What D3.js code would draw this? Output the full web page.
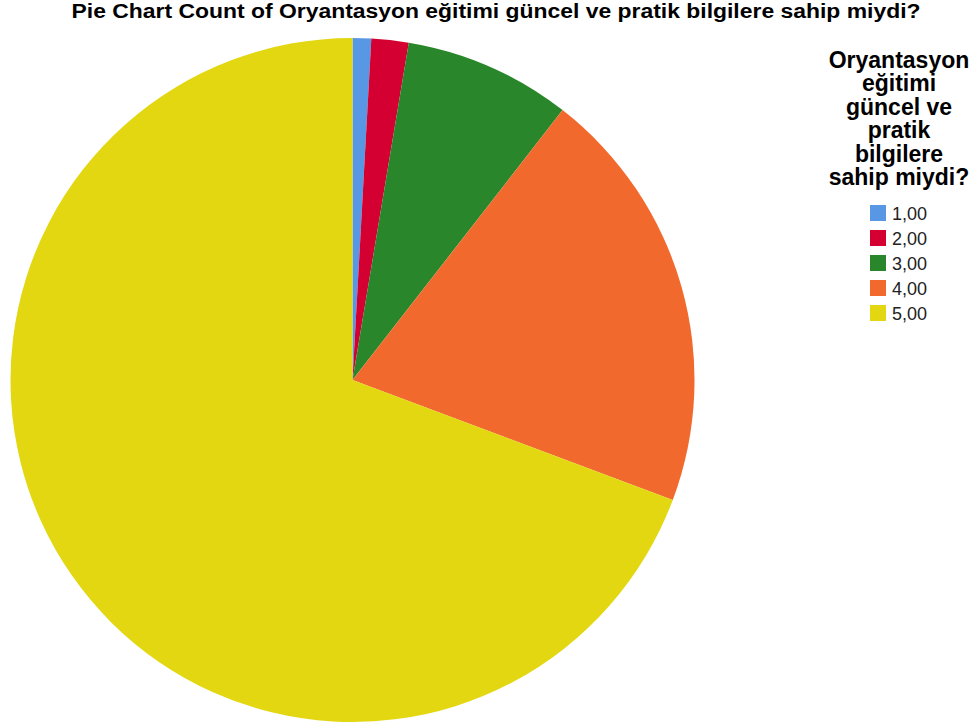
<!DOCTYPE html>
<html>
<head>
<meta charset="utf-8">
<script src="https://cdn.jsdelivr.net/npm/d3@7"></script>
<style>
  html, body { margin: 0; padding: 0; background: #fff; }
  svg { display: block; font-family: "Liberation Sans", Arial, sans-serif; }
</style>
</head>
<body>
<svg id="chart" width="976" height="726"></svg>
<script>
// values
const categories = ['1,00', '2,00', '3,00', '4,00', '5,00'];
const counts = [1, 2, 9, 23, 79];
const colors = ['#5897e4', '#d50032', '#2a862a', '#f2692d', '#e2d711'];
const titleText = 'Pie Chart Count of Oryantasyon eğitimi güncel ve pratik bilgilere sahip miydi?';
const legendTitle = ['Oryantasyon', 'eğitimi', 'güncel ve', 'pratik', 'bilgilere', 'sahip miydi?'];

const width = 976, height = 726;
const cx = 352.5, cy = 380, radius = 342;

const svg = d3.select('#chart');

const data = categories.map((c, i) => ({ cat: c, value: counts[i] }));
const color = d3.scaleOrdinal().domain(categories).range(colors);

const pie = d3.pie().value(d => d.value).sort(null);
const arc = d3.arc().innerRadius(0).outerRadius(radius);

const pieG = svg.append('g').attr('transform', `translate(${cx},${cy})`);
pieG.selectAll('path')
  .data(pie(data))
  .join('path')
  .attr('d', arc)
  .attr('fill', d => color(d.data.cat));

// title
svg.append('text')
  .attr('x', 496).attr('y', 18)
  .attr('text-anchor', 'middle')
  .attr('font-size', 19.5).attr('font-weight', 'bold')
  .attr('textLength', 849).attr('lengthAdjust', 'spacingAndGlyphs')
  .text(titleText);

// legend
const legend = svg.append('g');
legend.selectAll('text.lt')
  .data(legendTitle)
  .join('text')
  .attr('class', 'lt')
  .attr('x', 899)
  .attr('y', (d, i) => 68 + i * 23.4)
  .attr('text-anchor', 'middle')
  .attr('font-size', 23).attr('font-weight', 'bold')
  .text(d => d);

const rowY = d3.scalePoint().domain(categories).range([213, 313]);
const rows = legend.selectAll('g.row')
  .data(categories)
  .join('g')
  .attr('class', 'row')
  .attr('transform', d => `translate(870,${rowY(d)})`);
rows.append('rect')
  .attr('x', 0).attr('y', -8).attr('width', 16).attr('height', 16)
  .attr('fill', d => color(d));
rows.append('text')
  .attr('x', 22).attr('y', 6.5)
  .attr('font-size', 18)
  .attr('fill', '#222')
  .text(d => d);
</script>
</body>
</html>
